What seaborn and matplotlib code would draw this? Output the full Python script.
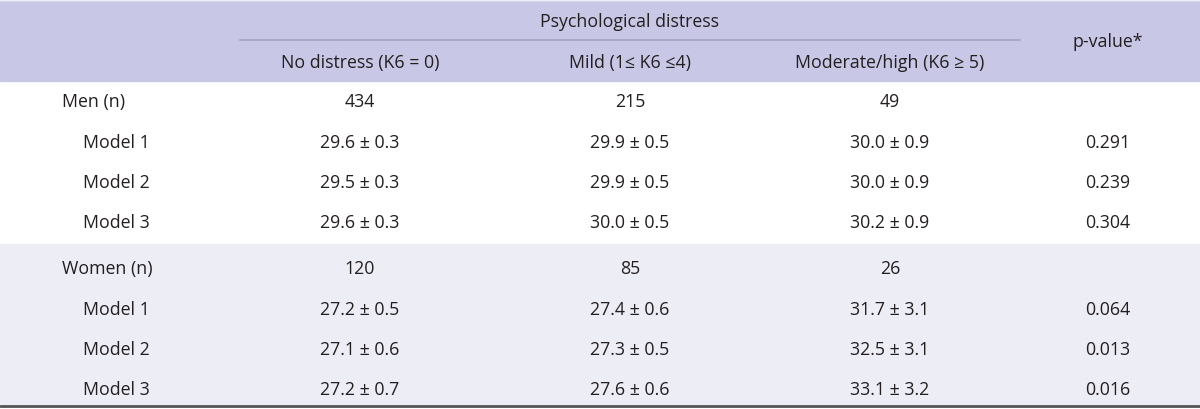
import matplotlib
matplotlib.use("Agg")
import matplotlib.pyplot as plt
import seaborn as sns

# table contents
col_group = "Psychological distress"
columns = ["No distress (K6 = 0)", "Mild (1\u2264 K6 \u22644)", "Moderate/high (K6 \u2265 5)"]
pval_header = "p-value*"
groups = ["Men (n)", "Women (n)"]
group_n = [[434, 215, 49], [120, 85, 26]]
models = ["Model 1", "Model 2", "Model 3"]
men_mean = [[29.6, 29.9, 30.0], [29.5, 29.9, 30.0], [29.6, 30.0, 30.2]]
men_se = [[0.3, 0.5, 0.9], [0.3, 0.5, 0.9], [0.3, 0.5, 0.9]]
men_p = ["0.291", "0.239", "0.304"]
women_mean = [[27.2, 27.4, 31.7], [27.1, 27.3, 32.5], [27.2, 27.6, 33.1]]
women_se = [[0.5, 0.6, 3.1], [0.6, 0.5, 3.1], [0.7, 0.6, 3.2]]
women_p = ["0.064", "0.013", "0.016"]

sns.set_theme(style="white")
plt.rcParams['font.family'] = ['Open Sans', 'DejaVu Sans']

fig = plt.figure(figsize=(12, 4.1), dpi=100)
ax = fig.add_axes([0, 0, 1, 1])
ax.set_xlim(0, 1200)
ax.set_ylim(410, 0)
ax.axis("off")

txt = "#231f20"
fs = 12.8
col_x = [360, 630, 890]
p_x = 1108

# header band
ax.axhspan(2, 82, color="#c8c8e6", zorder=0)
ax.axhline(1.5, color="#d6d6ec", lw=1)
ax.plot([240, 1020], [41, 41], color="#a9a9c9", lw=1.5)
ax.text(630, 22, col_group, ha="center", va="center", fontsize=fs, color=txt)
for x, c in zip(col_x, columns):
    ax.text(x, 63, c, ha="center", va="center", fontsize=fs, color=txt)
ax.text(p_x, 42, pval_header, ha="center", va="center", fontsize=fs, color=txt)

# women section background
ax.axhspan(245, 406, color="#ededf6", zorder=0)
ax.axhline(407, color="#555555", lw=2)

blocks = [(groups[0], group_n[0], men_mean, men_se, men_p, 102),
          (groups[1], group_n[1], women_mean, women_se, women_p, 269)]
for name, ns, means, ses, ps, y0 in blocks:
    ax.text(62, y0, name, ha="left", va="center", fontsize=fs, color=txt)
    for x, n in zip(col_x, ns):
        ax.text(x, y0, str(n), ha="center", va="center", fontsize=fs, color=txt)
    for i, m in enumerate(models):
        y = y0 + 41 + 40 * i
        ax.text(83, y, m, ha="left", va="center", fontsize=fs, color=txt)
        for x, mu, se in zip(col_x, means[i], ses[i]):
            ax.text(x, y, f"{mu:.1f} \u00b1 {se:.1f}", ha="center", va="center",
                    fontsize=fs, color=txt)
        ax.text(p_x, y, ps[i], ha="center", va="center", fontsize=fs, color=txt)

fig.savefig("out.png", dpi=100)
